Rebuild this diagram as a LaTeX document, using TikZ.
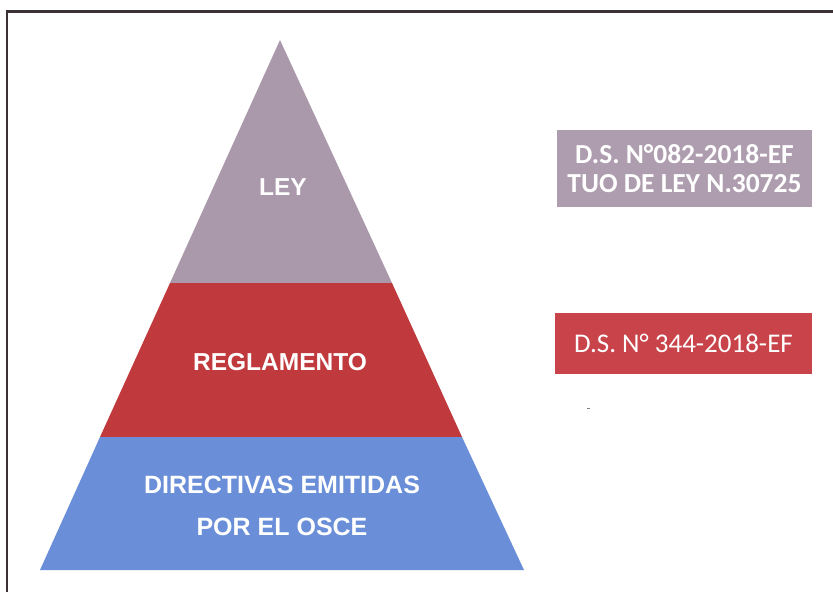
\documentclass[tikz,border=0pt]{standalone}
\usepackage{fontspec}
\setmainfont{Liberation Sans}
\newfontfamily\calib{Carlito}
\definecolor{leygray}{HTML}{AA99AA}
\definecolor{regred}{HTML}{C0393C}
\definecolor{dirblue}{HTML}{6A8FD8}
\definecolor{boxgray}{HTML}{AE9DAE}
\definecolor{boxred}{HTML}{C8444A}
\definecolor{framec}{HTML}{3C3236}
\begin{document}
\begin{tikzpicture}[x=1pt,y=-1pt,
  layertext/.style={text=white,font=\fontsize{24.5}{28}\selectfont\bfseries,align=center},
  boxtext/.style={text=white,align=center}]
\useasboundingbox (0,0) rectangle (833,592);
\fill[white] (0,0) rectangle (833,592);
% frame (top and left edges)
\draw[framec,line width=2.2pt] (7,592) -- (7,11.5) -- (833,11.5);
% pyramid
\coordinate (apex) at (280,40);
\fill[leygray] (apex) -- (392,283) -- (170,283) -- cycle;
\fill[regred] (170,283) -- (392,283) -- (462,437) -- (100,437) -- cycle;
\fill[dirblue] (100,437) -- (462,437) -- (524,570) -- (40,570) -- cycle;
\node[layertext] (ley) at (283,187) {LEY};
\node[layertext] (reg) at (280,362) {REGLAMENTO};
\node[layertext,font=\fontsize{25}{42}\selectfont\bfseries] (dir) at (282,506) {DIRECTIVAS EMITIDAS\\POR EL OSCE};
% right boxes
\node[fill=boxgray,minimum width=255,minimum height=77,inner sep=0,
  boxtext,font=\calib\fontsize{27.5}{28.5}\selectfont\bfseries] (ds1) at (684.5,168.5)
  {D.S. N°082-2018-EF\\TUO DE LEY N.30725};
\node[fill=boxred,minimum width=257,minimum height=61,inner sep=0,
  boxtext,font=\calib\fontsize{27}{30}\selectfont] (ds2) at (683.5,343.5)
  {D.S. N° 344-2018-EF};
\fill[gray] (587,407.5) rectangle (590,409);
\end{tikzpicture}
\end{document}
